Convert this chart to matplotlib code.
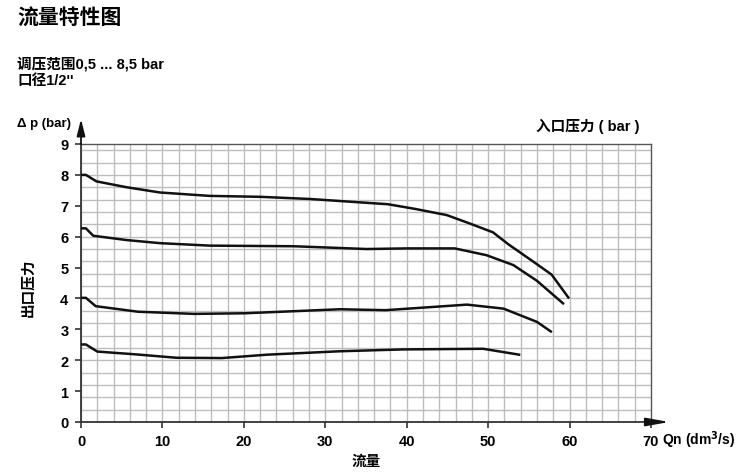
import numpy as np
import matplotlib.pyplot as plt

plt.rcParams['font.family'] = ['Liberation Sans', 'Noto Sans CJK SC', 'DejaVu Sans']
plt.rcParams['font.weight'] = 'bold'

# 各入口压力下的流量特性曲线 (Qn, Δp)
q_8 = [0, 0.6, 1.9, 5.6, 9.7, 15.8, 22.0, 28.1, 34.3, 37.7, 41.0, 44.9, 47.5, 50.6, 52.5, 55.5, 57.8, 59.85]
p_8 = [8.0, 8.0, 7.79, 7.6, 7.43, 7.32, 7.29, 7.22, 7.11, 7.05, 6.9, 6.7, 6.45, 6.14, 5.75, 5.2, 4.77, 4.03]

q_6 = [0, 0.6, 1.5, 5.6, 9.7, 15.8, 26.1, 35.1, 40.0, 45.9, 49.8, 53.1, 56.0, 59.2]
p_6 = [6.27, 6.27, 6.03, 5.89, 5.79, 5.71, 5.69, 5.60, 5.62, 5.62, 5.40, 5.08, 4.57, 3.84]

q_4 = [0, 0.6, 1.8, 7.0, 13.9, 20.1, 31.8, 37.4, 47.4, 51.9, 56.0, 57.7]
p_4 = [4.02, 4.02, 3.75, 3.57, 3.50, 3.52, 3.65, 3.62, 3.80, 3.67, 3.24, 2.93]

q_2 = [0, 0.6, 2.0, 6.7, 11.7, 17.3, 22.9, 31.8, 39.6, 49.4, 53.8]
p_2 = [2.51, 2.51, 2.28, 2.19, 2.08, 2.07, 2.18, 2.29, 2.35, 2.37, 2.18]

x_ticks = [0, 10, 20, 30, 40, 50, 60, 70]
y_ticks = [0, 1, 2, 3, 4, 5, 6, 7, 8, 9]

fig = plt.figure(figsize=(7.5, 4.77), dpi=100)
ax = fig.add_axes([81 / 750, 1 - 423 / 477, 570 / 750, 278 / 477])

# 网格
for gx in np.arange(0, 70, 2):
    ax.axvline(gx, color='#bdbdbd', lw=1.0, zorder=1)
for gy in np.arange(0, 9, 0.4):
    ax.axhline(gy, color='#bdbdbd', lw=1.0, zorder=1)

for q, p in [(q_8, p_8), (q_6, p_6), (q_4, p_4), (q_2, p_2)]:
    ax.plot(q, p, color='#111111', lw=1.8, zorder=3, solid_joinstyle='round')

ax.set_xlim(0, 70)
ax.set_ylim(0, 9)
ax.set_xticks(x_ticks)
ax.set_yticks(y_ticks)
ax.tick_params(axis='both', length=4, width=1.2, color='#333333', labelsize=10.5, pad=5)
for lab in ax.get_xticklabels() + ax.get_yticklabels():
    lab.set_fontweight('bold')

for side in ['top', 'right']:
    ax.spines[side].set_color('#555555')
    ax.spines[side].set_linewidth(1.0)
for side in ['left', 'bottom']:
    ax.spines[side].set_color('#333333')
    ax.spines[side].set_linewidth(1.3)

# 坐标轴箭头
ax.annotate('', xy=(0, 9.9), xytext=(0, 8.9), xycoords='data', annotation_clip=False,
            arrowprops=dict(arrowstyle='-|>,head_width=0.25,head_length=1.0', color='#111111', lw=1.3))
ax.annotate('', xy=(72.6, 0), xytext=(69.8, 0), xycoords='data', annotation_clip=False,
            arrowprops=dict(arrowstyle='-|>,head_width=0.25,head_length=1.4', color='#111111', lw=1.3))

# 文字
fig.text(17 / 750, 1 - 18 / 477, '流量特性图', fontsize=15, fontweight='bold', va='center', ha='left')
fig.text(17 / 750, 1 - 64 / 477, '调压范围0,5 ... 8,5 bar', fontsize=10.5, fontweight='bold', va='center', ha='left')
fig.text(17 / 750, 1 - 81 / 477, '口径1/2\'\'', fontsize=10.5, fontweight='bold', va='center', ha='left')
fig.text(17 / 750, 1 - 124 / 477, 'Δ p (bar)', fontsize=9.5, fontweight='bold', va='center', ha='left')
fig.text(640 / 750, 1 - 126 / 477, '入口压力 ( bar )', fontsize=10.5, fontweight='bold', va='center', ha='right')
fig.text(28 / 750, 1 - 288 / 477, '出口压力', fontsize=10.5, fontweight='bold', va='center', ha='center', rotation=90)
fig.text(366 / 750, 1 - 462 / 477, '流量', fontsize=10.5, fontweight='bold', va='center', ha='center')
fig.text(662 / 750, 1 - 440 / 477, 'Qn (dm$^{\\mathbf{3}}$/s)', fontsize=10, fontweight='bold', va='center', ha='left')

plt.savefig('out.png', dpi=100)
